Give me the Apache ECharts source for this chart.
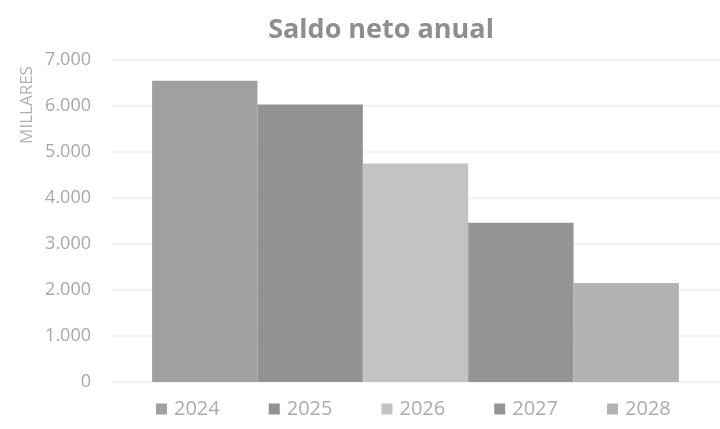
<!DOCTYPE html>
<html><head><meta charset="utf-8">
<script src="https://cdn.jsdelivr.net/npm/echarts@6/dist/echarts.min.js"></script>
<style>html,body{margin:0;padding:0;background:#fff}#c{width:720px;height:429px}</style>
</head><body><div id="c"></div>
<script>
const years = ['2024','2025','2026','2027','2028'];
const values = [6550, 6030, 4750, 3460, 2150];
const colors = ['#a0a0a0','#929292','#c3c3c3','#959595','#b2b2b2'];
const yTicks = [0, 1000, 2000, 3000, 4000, 5000, 6000, 7000];
const FONT = '"Open Sans", sans-serif';
const chart = echarts.init(document.getElementById('c'));
chart.setOption({
  animation: false,
  backgroundColor: '#fff',
  title: { text: 'Saldo neto anual', left: 376, textAlign: 'center', top: 12,
    textStyle: { fontFamily: FONT, fontSize: 27, fontWeight: 'bold', color: '#8e8e8e' } },
  graphic: [{ type: 'text', x: 27, y: 105, rotation: Math.PI/2,
    style: { text: 'MILLARES', fontFamily: FONT, fontSize: 17, fill: '#b0b0b0', textAlign: 'center', textVerticalAlign: 'middle' } }],
  legend: { left: 151, top: 394, itemWidth: 11, itemHeight: 11, itemGap: 49, icon: 'rect',
    textStyle: { fontFamily: FONT, fontSize: 20, color: '#acacac', padding: [0, 0, 0, 2] }, data: years },
  grid: { left: 111, right: 0, top: 60, bottom: 47 },
  xAxis: { type: 'category', data: [''], axisLine: { show: false }, axisTick: { show: false }, axisLabel: { show: false } },
  yAxis: { type: 'value', min: yTicks[0], max: yTicks[yTicks.length-1], interval: 1000,
    axisLabel: { fontFamily: FONT, fontSize: 18, color: '#a8a8a8', margin: 20,
      formatter: v => v === 0 ? '0' : (v/1000).toFixed(0) + '.' + String(v % 1000).padStart(3,'0') },
    splitLine: { lineStyle: { color: '#efefef', width: 1.5 } },
    axisLine: { show: false }, axisTick: { show: false } },
  series: years.map((y, i) => ({
    name: y, type: 'bar', data: [values[i]], barGap: '0%', barCategoryGap: '13.5%',
    itemStyle: { color: colors[i] }
  }))
});
</script></body></html>
